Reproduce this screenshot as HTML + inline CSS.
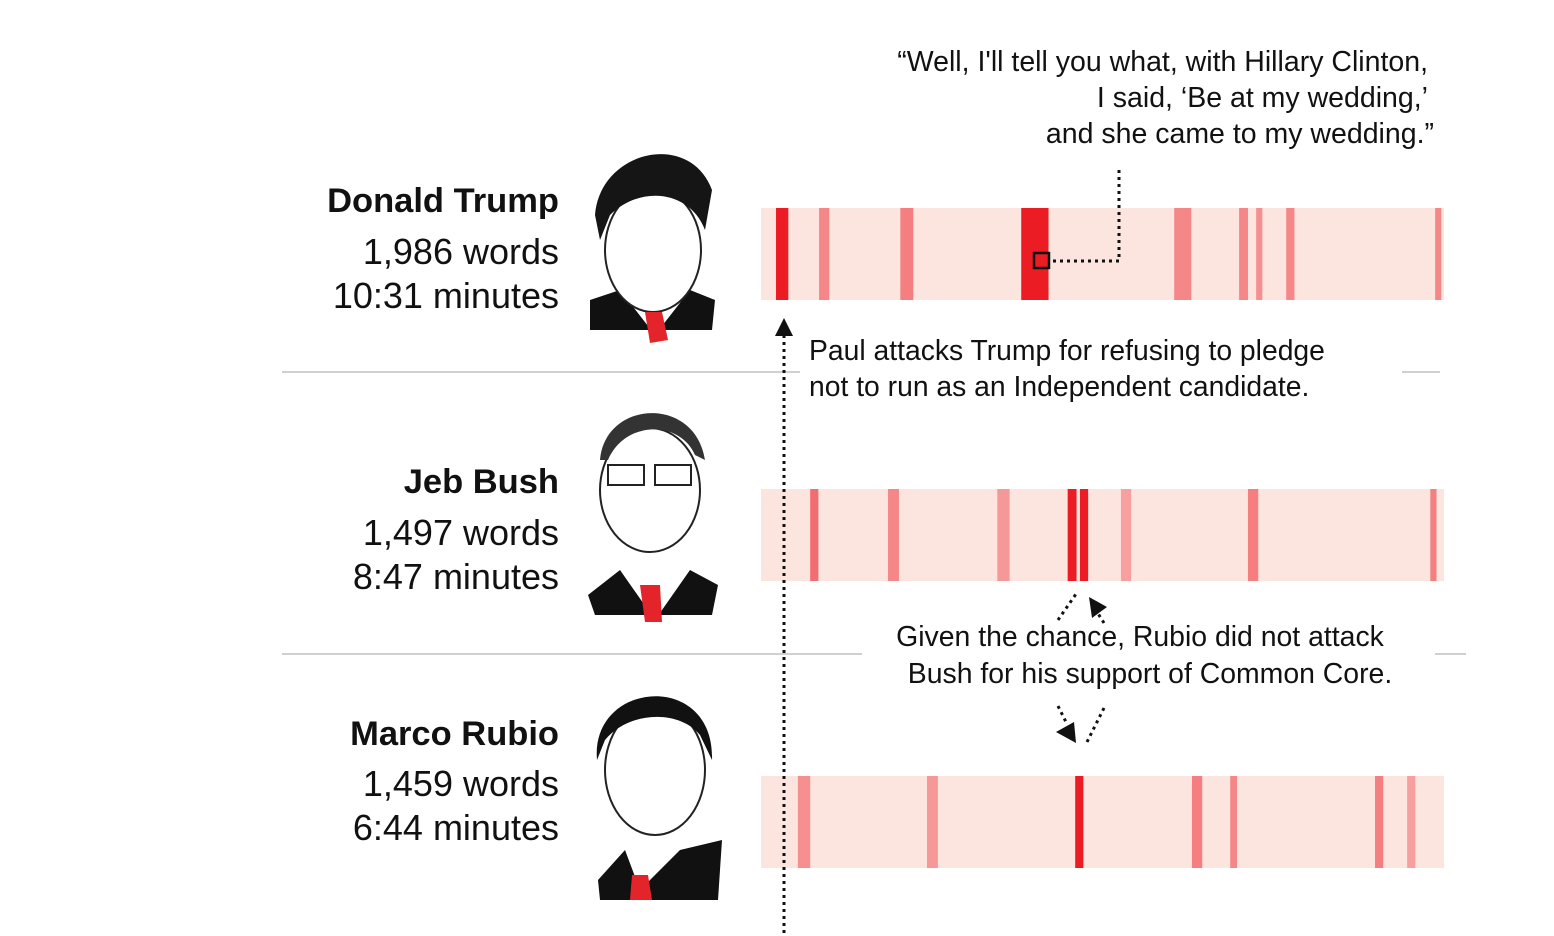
<!DOCTYPE html>
<html><head><meta charset="utf-8"><style>
body{margin:0;background:#fff;}
svg{display:block;font-family:"Liberation Sans",Arial,sans-serif;}
</style></head><body>
<svg id="chart" width="1554" height="936" viewBox="0 0 1554 936">
<g stroke="#d0d0d0" stroke-width="2">
<line x1="282" y1="372" x2="800" y2="372"/><line x1="1402" y1="372" x2="1440" y2="372"/>
<line x1="282" y1="654" x2="862" y2="654"/><line x1="1435" y1="654" x2="1466" y2="654"/>
</g>
<g text-anchor="end" fill="#111">
<text x="559" y="212" font-size="34.5" font-weight="bold">Donald Trump</text>
<text x="559" y="264" font-size="36">1,986 words</text>
<text x="559" y="308" font-size="36">10:31 minutes</text>
<text x="559" y="493" font-size="34.5" font-weight="bold">Jeb Bush</text>
<text x="559" y="545" font-size="36">1,497 words</text>
<text x="559" y="589" font-size="36">8:47 minutes</text>
<text x="559" y="745" font-size="34.5" font-weight="bold">Marco Rubio</text>
<text x="559" y="796" font-size="36">1,459 words</text>
<text x="559" y="840" font-size="36">6:44 minutes</text>
</g>
<g>
<g>
<path d="M590,300 L620,290 L655,335 L690,290 L715,300 L712,330 L590,330Z" fill="#111"/>
<ellipse cx="653" cy="250" rx="48" ry="62" fill="#fff" stroke="#222" stroke-width="2"/>
<path d="M595,215 C600,150 690,130 712,190 L705,230 C690,190 640,185 610,215 L600,240Z" fill="#151515"/>
<path d="M645,312 L662,312 L668,340 L650,343Z" fill="#e3242b"/>
</g>
<g>
<path d="M588,595 L620,570 L655,620 L690,570 L718,585 L712,615 L595,615Z" fill="#111"/>
<ellipse cx="650" cy="490" rx="50" ry="62" fill="#fff" stroke="#222" stroke-width="2"/>
<path d="M600,460 C605,400 695,395 705,460 L695,455 C680,420 625,420 608,460Z" fill="#333"/>
<rect x="608" y="465" width="36" height="20" fill="none" stroke="#222" stroke-width="2"/><rect x="655" y="465" width="36" height="20" fill="none" stroke="#222" stroke-width="2"/>
<path d="M640,585 L660,585 L662,622 L645,622Z" fill="#e3242b"/>
</g>
<g>
<path d="M598,880 L625,850 L640,890 L680,850 L722,840 L718,900 L600,900Z" fill="#111"/>
<ellipse cx="655" cy="770" rx="50" ry="65" fill="#fff" stroke="#222" stroke-width="2"/>
<path d="M597,760 C590,680 715,670 712,760 L700,735 C680,710 630,710 605,740Z" fill="#111"/>
<path d="M632,875 L648,875 L652,900 L630,900Z" fill="#e3242b"/>
</g>
</g>
<g id="bars"></g>
<g fill="#111">
<text text-anchor="end" font-size="28.5"><tspan x="1428" y="71">“Well, I'll tell you what, with Hillary Clinton,</tspan><tspan x="1428" y="107">I said, ‘Be at my wedding,’</tspan><tspan x="1434" y="143">and she came to my wedding.”</tspan></text>
<path d="M1119,170 L1119,261 L1050,261" fill="none" stroke="#111" stroke-width="3" stroke-dasharray="3,4"/>
<rect x="1034" y="253" width="15" height="15" fill="none" stroke="#111" stroke-width="2.5"/>
<line x1="784" y1="335" x2="784" y2="936" stroke="#111" stroke-width="3" stroke-dasharray="3,4"/>
<polygon points="775,336 784,318 793,336" fill="#111"/>
<text font-size="28.3"><tspan x="809" y="360">Paul attacks Trump for refusing to pledge</tspan><tspan x="809" y="396">not to run as an Independent candidate.</tspan></text>
<text text-anchor="middle" font-size="28.4"><tspan x="1140" y="646">Given the chance, Rubio did not attack</tspan><tspan x="1150" y="683">Bush for his support of Common Core.</tspan></text>
<g stroke="#111" stroke-width="3" stroke-dasharray="3,4" fill="none">
<line x1="1058" y1="620" x2="1076" y2="594"/><line x1="1104" y1="623" x2="1097" y2="612"/>
<line x1="1058" y1="706" x2="1066" y2="722"/><line x1="1087" y1="742" x2="1105" y2="706"/>
</g>
<polygon points="1089,597 1107,607 1092,618" fill="#111"/>
<polygon points="1056,732 1074,722 1076,743" fill="#111"/>
</g>
</svg>
<script>
// timeline axis: 0-100 % of debate
const domain = [0, 100];
const trumpStarts = [2.2, 8.5, 20.4, 38.1, 60.5, 70.0, 72.5, 76.9, 98.7];
const trumpWidths = [1.8, 1.5, 1.9, 4.0, 2.5, 1.3, 0.9, 1.2, 0.9];
const trumpIntensity = [1, 0.55, 0.6, 1, 0.55, 0.55, 0.5, 0.55, 0.55];
const bushStarts = [7.2, 18.6, 34.6, 44.9, 46.7, 52.7, 71.3, 98.0];
const bushWidths = [1.2, 1.6, 1.8, 1.3, 1.2, 1.5, 1.5, 0.9];
const bushIntensity = [0.7, 0.55, 0.45, 1, 1, 0.4, 0.6, 0.6];
const rubioStarts = [5.4, 24.3, 46.0, 63.1, 68.7, 89.9, 94.6];
const rubioWidths = [1.8, 1.6, 1.2, 1.5, 1.0, 1.2, 1.2];
const rubioIntensity = [0.5, 0.45, 1, 0.6, 0.55, 0.6, 0.4];
const candidates = ['trump', 'bush', 'rubio'];

const X0 = 761, X1 = 1444;
const x = v => X0 + (v - domain[0]) / (domain[1] - domain[0]) * (X1 - X0);
const rowY = {trump: 208, bush: 489, rubio: 776};
const rowH = 92;
const NS = 'http://www.w3.org/2000/svg';
const g = document.getElementById('bars');
function color(t) {
  const a = [252, 228, 223], b = [236, 28, 36];
  if (t >= 0.95) return 'rgb(236,28,36)';
  const k = t * 0.85;
  return 'rgb(' + a.map((c, i) => Math.round(c + (b[i] - c) * k)).join(',') + ')';
}
const data = {
  trump: [trumpStarts, trumpWidths, trumpIntensity],
  bush: [bushStarts, bushWidths, bushIntensity],
  rubio: [rubioStarts, rubioWidths, rubioIntensity]
};
candidates.forEach(c => {
  const bg = document.createElementNS(NS, 'rect');
  bg.setAttribute('x', x(domain[0])); bg.setAttribute('y', rowY[c]);
  bg.setAttribute('width', x(domain[1]) - x(domain[0])); bg.setAttribute('height', rowH);
  bg.setAttribute('fill', '#fce4df');
  
  
  g.appendChild(bg);
  const [s, w, t] = data[c];
  s.forEach((v, i) => {
    const r = document.createElementNS(NS, 'rect');
    r.setAttribute('x', x(v)); r.setAttribute('y', rowY[c]);
    r.setAttribute('width', x(v + w[i]) - x(v)); r.setAttribute('height', rowH);
    r.setAttribute('fill', color(t[i]));
    
    
    g.appendChild(r);
  });
});
</script>
</body></html>
